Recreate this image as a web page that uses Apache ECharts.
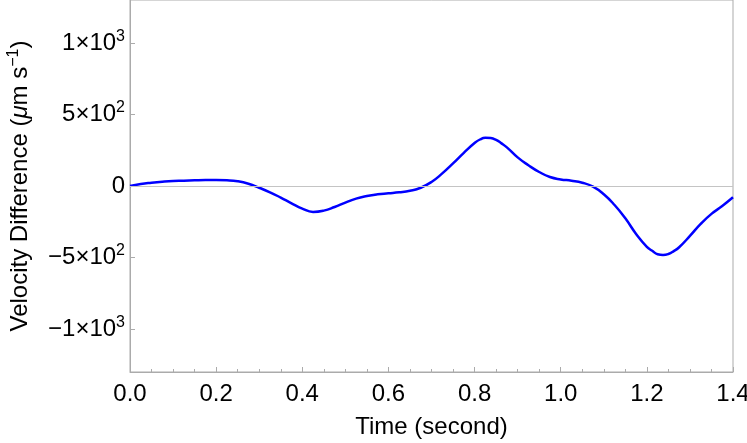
<!DOCTYPE html>
<html>
<head>
<meta charset="utf-8">
<script src="https://cdn.jsdelivr.net/npm/echarts@6/dist/echarts.min.js"></script>
<style>
  html, body { margin: 0; padding: 0; background: #fff; }
  #chart { width: 747px; height: 443px; }
</style>
</head>
<body>
<div id="chart"></div>
<script>
// time in seconds, velocity difference in um/s (denser sampling around the peak and trough)
var times = [0, 0.025, 0.05, 0.075, 0.1, 0.125, 0.15, 0.175, 0.2, 0.225, 0.25, 0.275, 0.3, 0.325, 0.35, 0.375,
             0.4, 0.425, 0.45, 0.475, 0.5, 0.525, 0.55, 0.575, 0.6, 0.625, 0.65, 0.675, 0.7, 0.725, 0.75, 0.775,
             0.8, 0.8125, 0.825, 0.8375, 0.85, 0.8625, 0.875, 0.9, 0.925, 0.95, 0.975, 1.0, 1.025, 1.05, 1.075,
             1.1, 1.125, 1.15, 1.175, 1.2, 1.2125, 1.225, 1.2375, 1.25, 1.2625, 1.275, 1.3, 1.325, 1.35, 1.375, 1.4];
var velDiff = [0, 14, 23, 30, 35, 37, 40, 42, 42, 40, 33, 16, -12, -44, -81, -121,
               -158, -181, -172, -147, -116, -88, -70, -58, -51, -44, -33, -12, 28, 88, 158, 232,
               300, 325, 337, 335, 322, 298, 270, 200, 145, 98, 63, 46, 37, 23, -5,
               -58, -133, -226, -335, -425, -453, -477, -482, -475, -455, -428, -349, -265, -195, -140, -79];
var yTicks = [-1000, -500, 0, 500, 1000];

var chart = echarts.init(document.getElementById('chart'));
var font = 'Liberation Sans, Arial, sans-serif';
var gray = '#ababab';

function yLabel(v) {
  if (v === 0) return '{b|0}';
  var sign = v < 0 ? '\u2212' : '';
  var a = Math.abs(v);
  var exp = Math.floor(Math.log10(a));
  var mant = Math.round(a / Math.pow(10, exp));
  return '{b|' + sign + mant + '\u00d710}{s|' + exp + '}';
}

chart.setOption({
  animation: false,
  grid: {
    left: 130, right: 14, top: 0, bottom: 71,
    outerBoundsMode: 'none',
    show: true, borderColor: gray, borderWidth: 1
  },
  xAxis: {
    type: 'value',
    min: 0, max: 1.4, interval: 0.2,
    name: 'Time (second)',
    nameLocation: 'middle',
    nameGap: 43,
    nameTextStyle: { fontFamily: font, fontSize: 24, color: '#000' },
    axisLine: { show: true, onZero: false, lineStyle: { color: gray, width: 1 } },
    axisTick: { show: true, inside: true, length: 5, lineStyle: { color: gray } },
    minorTick: { show: true, splitNumber: 4, length: 3, lineStyle: { color: gray } },
    splitLine: { show: false },
    axisLabel: {
      fontFamily: font, fontSize: 24, color: '#000', margin: 10,
      formatter: function (v) { return v.toFixed(1); }
    }
  },
  yAxis: {
    type: 'value',
    min: -1300, max: 1300,
    name: '{n|Velocity Difference (}{i|\u03bc}{n|m s}{s|\u22121}{n|)}',
    nameLocation: 'middle',
    nameGap: 95,
    nameTextStyle: {
      rich: {
        n: { fontFamily: font, fontSize: 24, color: '#000' },
        i: { fontFamily: font, fontSize: 24, color: '#000', fontStyle: 'italic' },
        s: { fontFamily: font, fontSize: 16, color: '#000', padding: [0, 0, 13, 0] }
      }
    },
    axisLine: { show: true, onZero: false, lineStyle: { color: gray, width: 1 } },
    axisTick: { show: true, inside: true, length: 5, customValues: yTicks, lineStyle: { color: gray } },
    splitLine: { show: false },
    axisLabel: {
      customValues: yTicks,
      margin: 5,
      formatter: yLabel,
      rich: {
        b: { fontFamily: font, fontSize: 24, color: '#000' },
        s: { fontFamily: font, fontSize: 16, color: '#000', padding: [0, 0, 13, 0] }
      }
    }
  },
  series: [{
    type: 'line',
    data: times.map(function (t, i) { return [t, velDiff[i]]; }),
    smooth: 0.5,
    showSymbol: false,
    lineStyle: { color: '#0000ff', width: 2.5 },
    markLine: {
      silent: true,
      symbol: 'none',
      label: { show: false },
      lineStyle: { color: '#c4c4c4', width: 1, type: 'solid' },
      data: [{ yAxis: 0 }]
    }
  }]
});
window.addEventListener('resize', function () { chart.resize(); });
</script>
</body>
</html>
